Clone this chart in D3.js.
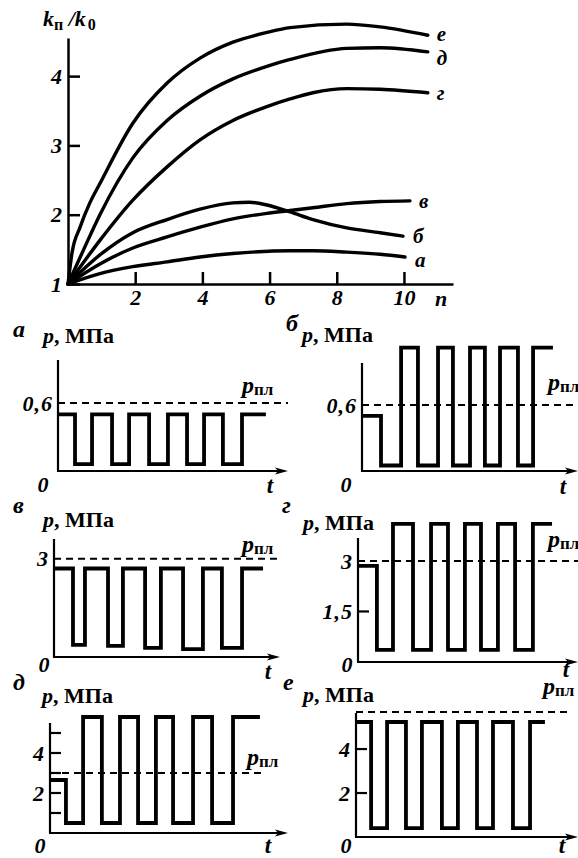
<!DOCTYPE html>
<html>
<head>
<meta charset="utf-8">
<script src="https://cdn.jsdelivr.net/npm/d3@7"></script>
<style>
  body { margin: 0; background: #fff; }
</style>
</head>
<body>
<svg id="chart" width="578" height="858"></svg>
<script>
// ---- Upper plot: k_п/k_0 versus number of cycles n ----
const nTicks = [2, 4, 6, 8, 10];
const kTicks = [1, 2, 3, 4];
const curveLetters = ["а", "б", "в", "г", "д", "е"];

const curveA = [[0, 1], [0.95, 1.15], [1.93, 1.25], [2.95, 1.32], [3.93, 1.39], [4.91, 1.44], [6.61, 1.48], [7.29, 1.48], [8.30, 1.46], [9.29, 1.43], [10.03, 1.39]];
const curveB = [[0, 1], [0.95, 1.42], [1.93, 1.74], [2.95, 1.93], [3.93, 2.08], [4.91, 2.17], [5.40, 2.18], [5.92, 2.14], [6.61, 2.04], [7.29, 1.93], [8.30, 1.81], [9.29, 1.74], [9.97, 1.69]];
const curveV = [[0, 1], [0.95, 1.29], [1.93, 1.52], [2.95, 1.68], [3.93, 1.82], [4.91, 1.94], [5.92, 2.02], [6.61, 2.06], [7.29, 2.10], [8.30, 2.16], [9.29, 2.19], [10.18, 2.20]];
const curveG = [[0, 1], [0.95, 1.63], [1.93, 2.21], [2.95, 2.69], [3.93, 3.08], [4.91, 3.36], [5.92, 3.56], [6.61, 3.67], [7.29, 3.76], [8.30, 3.82], [9.29, 3.81], [10.71, 3.76]];
const curveD = [[0, 1], [0.45, 1.48], [0.95, 2.00], [1.93, 2.82], [2.95, 3.36], [3.93, 3.71], [4.91, 3.96], [5.92, 4.14], [6.61, 4.24], [8.30, 4.40], [9.29, 4.41], [10.71, 4.35]];
const curveE = [[0, 1], [0.12, 1.45], [0.36, 1.82], [0.65, 2.17], [0.95, 2.45], [1.93, 3.32], [2.95, 3.90], [3.93, 4.26], [4.91, 4.49], [5.92, 4.63], [6.61, 4.70], [8.30, 4.75], [9.29, 4.71], [10.71, 4.59]];

// ---- Lower panels: pressure cycles p(t), MPa ----
// switching times (t) and the level held after each switch (p)
const tA = [0, 0.74, 1.48, 2.35, 3.09, 3.96, 4.78, 5.61, 6.35, 7.17, 8.00, 9.04];
const pA = [0.5, 0.06, 0.5, 0.06, 0.5, 0.06, 0.5, 0.06, 0.5, 0.06, 0.5];
const plA = 0.6;

const tB = [0, 0.88, 1.81, 2.59, 3.52, 4.21, 5.00, 5.69, 6.39, 7.22, 7.92, 8.84];
const pB = [0.5, 0.05, 1.12, 0.05, 1.12, 0.05, 1.12, 0.05, 1.12, 0.05, 1.12];
const plB = 0.6;

const tV = [0, 0.84, 1.37, 2.39, 3.05, 4.03, 4.73, 5.71, 6.59, 7.43, 8.32, 9.25];
const pV = [2.7, 0.37, 2.7, 0.34, 2.7, 0.28, 2.7, 0.24, 2.7, 0.28, 2.7];
const plV = 3;

const tG = [0, 0.86, 1.59, 2.50, 3.32, 4.09, 4.86, 5.59, 6.36, 7.14, 7.95, 8.82];
const pG = [2.85, 0.36, 4.1, 0.36, 4.1, 0.36, 4.1, 0.36, 4.1, 0.36, 4.1];
const plG = 3;

const tD = [0, 0.67, 1.39, 2.18, 2.94, 3.70, 4.45, 5.17, 6.01, 6.81, 7.69, 8.82];
const pD = [2.65, 0.5, 5.8, 0.5, 5.8, 0.5, 5.8, 0.5, 5.8, 0.5, 5.8];
const plD = 3;

const tE = [0, 0.68, 1.40, 2.25, 2.97, 3.87, 4.59, 5.45, 6.17, 7.07, 7.84, 8.51];
const pE = [5.23, 0.4, 5.23, 0.4, 5.23, 0.4, 5.23, 0.4, 5.23, 0.4, 5.23];
const plE = 5.68;

const tickMarksG = [1.5];
const tickLabelsA = [0.6], tickLabelsB = [0.6], tickLabelsV = [3];
const tickLabelsG = [1.5, 3];
const tickMarksD = [1, 2, 3, 4, 5], tickLabelsD = [2, 4];
const tickMarksE = [2, 4], tickLabelsE = [2, 4];

const ruLocale = d3.formatLocale({ decimal: ",", thousands: " ", grouping: [3], currency: ["", ""] });
const fmt = ruLocale.format("~g");

const FONT = "'Liberation Serif'";
const svg = d3.select("#chart");

function txt(sel, size, italic) {
  return sel.style("font-family", FONT).style("font-weight", "bold")
    .style("font-size", size + "px").style("font-style", italic ? "italic" : "normal")
    .attr("fill", "#000");
}

// ================= upper plot =================
const x = d3.scaleLinear().domain([0, 11.46]).range([68, 453]);
const y = d3.scaleLinear().domain([1, 4.55]).range([284, 38]);

const gx = svg.append("g")
  .attr("transform", `translate(0,${y(1)})`)
  .call(d3.axisBottom(x).tickValues(nTicks).tickFormat(d3.format("d"))
    .tickSizeInner(-12).tickSizeOuter(0).tickPadding(5));
const gy = svg.append("g")
  .attr("transform", `translate(${x(0)},0)`)
  .call(d3.axisLeft(y).tickValues(kTicks).tickFormat(d3.format("d"))
    .tickSizeInner(-12).tickSizeOuter(0).tickPadding(6));

[gx, gy].forEach(g => {
  g.attr("font-family", null).attr("font-size", null);
  g.selectAll("path.domain").attr("stroke", "#000").attr("stroke-width", 2.5);
  g.selectAll(".tick line").attr("stroke", "#000").attr("stroke-width", 2.5);
  txt(g.selectAll(".tick text"), 22, true);
});

const line = d3.line().x(d => x(d[0])).y(d => y(d[1])).curve(d3.curveMonotoneX);
const curves = [curveA, curveB, curveV, curveG, curveD, curveE];
const labelOffsets = [[10, 3], [10, -1], [9, 0], [9, 0], [9, 6], [9, -2]];

curves.forEach((c, i) => {
  svg.append("path").attr("d", line(c))
    .attr("fill", "none").attr("stroke", "#000").attr("stroke-width", 3.4)
    .attr("stroke-linecap", "round");
  const last = c[c.length - 1];
  txt(svg.append("text")
    .attr("x", x(last[0]) + labelOffsets[i][0])
    .attr("y", y(last[1]) + labelOffsets[i][1])
    .attr("dy", "0.35em"), 21, true)
    .text(curveLetters[i]);
});

// axis titles of the upper plot
const kTitle = txt(svg.append("text").attr("x", 43).attr("y", 26), 22, false);
txt(kTitle.append("tspan"), 22, true).text("k");
txt(kTitle.append("tspan").attr("dy", 4), 16, false).text("п");
txt(kTitle.append("tspan").attr("dy", -4), 22, true).text(" /");
txt(kTitle.append("tspan"), 22, true).text("k");
txt(kTitle.append("tspan").attr("dy", 4).attr("dx", 2), 16, false).text("0");

txt(svg.append("text").attr("x", 441).attr("y", 298).attr("dy", "0.35em")
  .attr("text-anchor", "middle"), 22, true).text("n");

// ================= lower panels =================
const panels = [
  { letter: "а", t: tA, p: pA, pl: plA, marks: [], labels: tickLabelsA,
    x0: 58, x1: 288, y0: 471, yTop: 360, yMax: 0.98, dashEnd: 288,
    letterPos: [13, 337], titlePos: [43, 343], plPos: [242, 393], zeroPos: [43, 484], tPos: [270, 485] },
  { letter: "б", t: tB, p: pB, pl: plB, marks: [], labels: tickLabelsB,
    x0: 362, x1: 578, y0: 471, yTop: 363, yMax: 0.98, dashEnd: 578,
    letterPos: [286, 331], titlePos: [302, 342], plPos: [548, 390], zeroPos: [346, 484], tPos: [563, 486] },
  { letter: "в", t: tV, p: pV, pl: plV, marks: [], labels: tickLabelsV,
    x0: 54, x1: 280, y0: 657, yTop: 539, yMax: 3.6, dashEnd: 280,
    letterPos: [13, 513], titlePos: [43, 527], plPos: [242, 552], zeroPos: [44, 664], tPos: [268, 671] },
  { letter: "г", t: tG, p: pG, pl: plG, marks: tickMarksG, labels: tickLabelsG,
    x0: 358, x1: 578, y0: 662, yTop: 538, yMax: 3.68, dashEnd: 578,
    letterPos: [282, 513], titlePos: [303, 530], plPos: [548, 547], zeroPos: [347, 664], tPos: [566, 669] },
  { letter: "д", t: tD, p: pD, pl: plD, marks: tickMarksD, labels: tickLabelsD,
    x0: 50, x1: 288, y0: 833, yTop: 723, yMax: 5.5, dashEnd: 263,
    letterPos: [13, 690], titlePos: [42, 703], plPos: [247, 765], zeroPos: [40, 845], tPos: [268, 845] },
  { letter: "е", t: tE, p: pE, pl: plE, marks: tickMarksE, labels: tickLabelsE,
    x0: 356, x1: 578, y0: 837, yTop: 713, yMax: 5.64, dashEnd: 570,
    letterPos: [283, 690], titlePos: [303, 702], plPos: [543, 694], zeroPos: [346, 845], tPos: [562, 845] }
];

panels.forEach(P => {
  const g = svg.append("g");
  const px = d3.scaleLinear().domain([0, 10]).range([P.x0, P.x1]);
  const py = d3.scaleLinear().domain([0, P.yMax]).range([P.y0, P.yTop]);

  // axes
  g.append("line").attr("x1", P.x0).attr("y1", P.y0).attr("x2", P.x0).attr("y2", P.yTop)
    .attr("stroke", "#000").attr("stroke-width", 2.2);
  g.append("line").attr("x1", P.x0 - 1).attr("y1", P.y0).attr("x2", P.x1 - 8).attr("y2", P.y0)
    .attr("stroke", "#000").attr("stroke-width", 2.2);
  g.append("path")
    .attr("d", `M${P.x1},${P.y0} L${P.x1 - 13},${P.y0 - 3.5} L${P.x1 - 10},${P.y0} L${P.x1 - 13},${P.y0 + 3.5} Z`)
    .attr("fill", "#000");

  // inner ticks
  P.marks.forEach(v => {
    g.append("line").attr("x1", P.x0).attr("x2", P.x0 + 11).attr("y1", py(v)).attr("y2", py(v))
      .attr("stroke", "#000").attr("stroke-width", 2.2);
  });
  P.labels.forEach(v => {
    txt(g.append("text").attr("x", P.x0 - 5).attr("y", py(v)).attr("dy", "0.35em")
      .attr("text-anchor", "end").style("letter-spacing", "1px"), 22, true)
      .text(fmt(v));
  });

  // reservoir pressure level
  g.append("line").attr("x1", P.x0).attr("x2", P.dashEnd).attr("y1", py(P.pl)).attr("y2", py(P.pl))
    .attr("stroke", "#000").attr("stroke-width", 2).attr("stroke-dasharray", "7,5");

  // pressure cycles
  const pts = P.p.map((v, i) => [P.t[i], v]);
  pts.push([P.t[P.t.length - 1], P.p[P.p.length - 1]]);
  const step = d3.line().x(d => px(d[0])).y(d => py(d[1])).curve(d3.curveStepAfter);
  g.append("path").attr("d", step(pts)).attr("fill", "none")
    .attr("stroke", "#000").attr("stroke-width", 3.8).attr("stroke-linejoin", "miter");

  // texts
  txt(g.append("text").attr("x", P.letterPos[0]).attr("y", P.letterPos[1]), 24, true).text(P.letter);

  const title = txt(g.append("text").attr("x", P.titlePos[0]).attr("y", P.titlePos[1]), 22, false);
  txt(title.append("tspan"), 22, true).text("p");
  txt(title.append("tspan"), 22, false).text(", МПа");

  const pl = txt(g.append("text").attr("x", P.plPos[0]).attr("y", P.plPos[1]), 24, false);
  txt(pl.append("tspan"), 24, true).text("p");
  txt(pl.append("tspan").attr("dy", 2), 17, false).text("пл");

  txt(g.append("text").attr("x", P.zeroPos[0]).attr("y", P.zeroPos[1]).attr("dy", "0.35em")
    .attr("text-anchor", "middle"), 22, true).text("0");
  txt(g.append("text").attr("x", P.tPos[0]).attr("y", P.tPos[1]).attr("dy", "0.35em")
    .attr("text-anchor", "middle"), 23, true).text("t");
});
</script>
</body>
</html>
